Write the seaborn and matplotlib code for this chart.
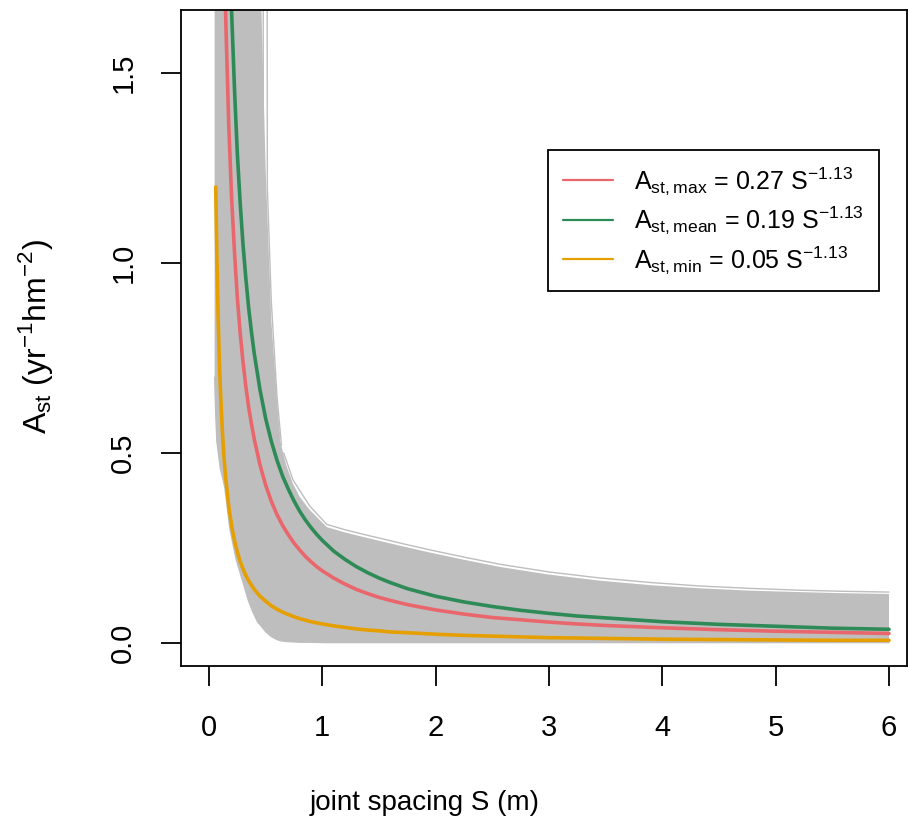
import matplotlib
matplotlib.use("Agg")
import matplotlib.pyplot as plt
from matplotlib import font_manager
from matplotlib.lines import Line2D
import pandas as pd
import seaborn as sns

# fitted curves, values at these joint spacings S (m)
s_fit = [0.06, 0.07, 0.08, 0.09, 0.1, 0.11, 0.12, 0.13, 0.14, 0.15, 0.175, 0.2,
         0.225, 0.25, 0.275, 0.3, 0.325, 0.35, 0.375, 0.4, 0.45, 0.5, 0.55, 0.6,
         0.65, 0.7, 0.75, 0.8, 0.85, 0.9, 0.95, 1.0, 1.1, 1.2, 1.3, 1.4, 1.5, 1.6,
         1.75, 2.0, 2.25, 2.5, 2.75, 3.0, 3.25, 3.5, 4.0, 4.5, 5.0, 5.5, 6.0]
a_red = [4.56, 3.84, 3.30, 2.89, 2.56, 2.30, 2.09, 1.91, 1.75, 1.62, 1.36, 1.17,
         1.03, 0.910, 0.817, 0.741, 0.676, 0.621, 0.576, 0.536, 0.469, 0.416, 0.373, 0.338,
         0.309, 0.285, 0.263, 0.245, 0.228, 0.214, 0.201, 0.190, 0.171, 0.155, 0.141, 0.130,
         0.120, 0.112, 0.101, 0.087, 0.076, 0.067, 0.061, 0.055, 0.050, 0.046, 0.040, 0.035,
         0.031, 0.028, 0.025]
a_green = [6.48, 5.45, 4.69, 4.10, 3.64, 3.27, 2.96, 2.71, 2.49, 2.30, 1.94, 1.66,
           1.46, 1.29, 1.16, 1.05, 0.961, 0.883, 0.818, 0.761, 0.667, 0.591, 0.531, 0.481,
           0.439, 0.405, 0.374, 0.347, 0.324, 0.304, 0.286, 0.270, 0.242, 0.220, 0.201, 0.185,
           0.171, 0.159, 0.143, 0.123, 0.108, 0.096, 0.086, 0.078, 0.071, 0.066, 0.056, 0.049,
           0.044, 0.039, 0.036]
a_orange = [1.20, 1.01, 0.868, 0.76, 0.675, 0.606, 0.549, 0.502, 0.461, 0.427, 0.359, 0.308,
            0.270, 0.240, 0.215, 0.195, 0.178, 0.164, 0.152, 0.141, 0.123, 0.110, 0.098, 0.089,
            0.081, 0.075, 0.069, 0.064, 0.060, 0.056, 0.053, 0.050, 0.045, 0.041, 0.037, 0.034,
            0.032, 0.029, 0.027, 0.023, 0.020, 0.018, 0.016, 0.014, 0.013, 0.012, 0.010, 0.009,
            0.008, 0.007, 0.007]

labels = ["A$_\\mathregular{st,max}$ = 0.27 S$^\\mathregular{-1.13}$",
          "A$_\\mathregular{st,mean}$ = 0.19 S$^\\mathregular{-1.13}$",
          "A$_\\mathregular{st,min}$ = 0.05 S$^\\mathregular{-1.13}$"]
colors = ["#E9676C", "#2E8B57", "#E69F00"]

# envelope of the grey simulated curves
band_s = [0.05, 0.06, 0.07, 0.1, 0.14, 0.185, 0.24, 0.3, 0.35, 0.39, 0.43, 0.46,
          0.5, 0.55, 0.6, 0.63, 0.68, 0.74, 0.8, 0.89, 1.04, 1.2, 1.39, 1.7, 1.95,
          2.25, 2.57, 3.0, 3.45, 3.9, 4.33, 4.75, 5.2, 5.6, 6.0]
band_lo = [0.70, 0.60, 0.53, 0.46, 0.41, 0.30, 0.22, 0.16, 0.11, 0.08, 0.055, 0.045,
           0.03, 0.017, 0.009, 0.006, 0.004, 0.003, 0.002, 0.002, 0.001, 0.001, 0.001,
           0.001, 0.001, 0.001, 0.001, 0.001, 0.001, 0.001, 0.001, 0.001, 0.001, 0.001,
           0.001]
band_hi = [2.5, 2.5, 2.5, 2.5, 2.5, 2.5, 2.5, 2.5, 2.5, 2.5, 2.5, 1.7,
           1.25, 0.85, 0.64, 0.53, 0.47, 0.42, 0.385, 0.35, 0.305, 0.291, 0.277,
           0.255, 0.238, 0.219, 0.200, 0.180, 0.164, 0.152, 0.144, 0.138, 0.134,
           0.131, 0.129]
# a few stray grey curves just outside the dense band
edge_s = [0.66, 0.74, 0.89, 1.04, 1.2, 1.39, 1.7, 1.95, 2.25, 2.57, 3.0, 3.45, 3.9,
          4.33, 4.75, 5.2, 5.6, 6.0]
edge_a = [0.50, 0.43, 0.36, 0.312, 0.298, 0.284, 0.262, 0.245, 0.226, 0.207, 0.187,
          0.171, 0.159, 0.150, 0.144, 0.139, 0.136, 0.134]
stray1_s = [0.478, 0.48, 0.52, 0.58, 0.62]
stray1_a = [2.0, 1.2, 0.9, 0.62, 0.55]
stray2_s = [0.513, 0.515, 0.55, 0.6, 0.64]
stray2_a = [2.0, 1.2, 0.9, 0.65, 0.52]

x_ticks = [0, 1, 2, 3, 4, 5, 6]
y_ticks = [0.0, 0.5, 1.0, 1.5]


def pick(names):
    for n in names:
        try:
            font_manager.findfont(n, fallback_to_default=False)
            return n
        except ValueError:
            pass
    return "DejaVu Sans"


sns.set_style("ticks")
regular = pick(["Liberation Sans", "Arial"])
plt.rcParams["font.family"] = [regular, "DejaVu Sans"]
for key in ["text.color", "axes.labelcolor", "xtick.color", "ytick.color", "axes.edgecolor"]:
    plt.rcParams[key] = "black"

fig = plt.figure(figsize=(9.08, 8.31), dpi=100)
ax = fig.add_axes([0.1993, 0.1986, 0.7996, 0.7894])

grey = "#BEBEBE"
ax.fill_between(band_s, band_lo, band_hi, color=grey, lw=0)
ax.plot(band_s, band_lo, color=grey, lw=1)
for xs, ys in [(edge_s, edge_a), (stray1_s, stray1_a), (stray2_s, stray2_a)]:
    ax.plot(xs, ys, color=grey, lw=1)

df = pd.DataFrame({
    "S": s_fit * 3,
    "A": a_red + a_green + a_orange,
    "curve": [labels[0]] * len(s_fit) + [labels[1]] * len(s_fit) + [labels[2]] * len(s_fit),
})
sns.lineplot(data=df, x="S", y="A", hue="curve", palette=dict(zip(labels, colors)),
             linewidth=2.6, estimator=None, sort=False, legend=False, ax=ax)

ax.set_xlim(-0.247, 6.159)
ax.set_ylim(-0.0605, 1.666)
ax.set_xticks(x_ticks)
ax.set_xticklabels([str(v) for v in x_ticks], fontsize=21)
ax.set_yticks(y_ticks)
ax.set_yticklabels([f"{v:.1f}" for v in y_ticks], fontsize=21, rotation=90, va="center")
ax.tick_params(axis="both", direction="out", length=14.4, width=1.3, color="black",
               bottom=True, left=True)
ax.tick_params(axis="x", pad=20)
ax.tick_params(axis="y", pad=17)
for sp in ax.spines.values():
    sp.set_visible(True)
    sp.set_color("black")
    sp.set_linewidth(1.3)

ax.set_xlabel("")
ax.set_ylabel("")
fig.text(425 / 908, 1 - 803 / 831, "joint spacing S (m)",
         fontsize=20, ha="center", va="center")
fig.text(36 / 908, 1 - 337 / 831, "$\\mathregular{A_{st}}$ (yr$^\\mathregular{-1}$hm$^\\mathregular{-2}$)",
         fontsize=23, rotation=90, ha="center", va="center")

handles = [Line2D([0], [0], color=c, lw=1.6) for c in colors]
leg = ax.legend(handles, labels, loc="upper left", bbox_to_anchor=(0.5055, 0.786),
                borderaxespad=0, frameon=True, fancybox=False, framealpha=1,
                edgecolor="black", handlelength=2.0, handletextpad=0.85,
                labelspacing=0.3, borderpad=0.6, fontsize=18)
leg.get_frame().set_linewidth(1.3)

fig.savefig("out.png", dpi=100)
